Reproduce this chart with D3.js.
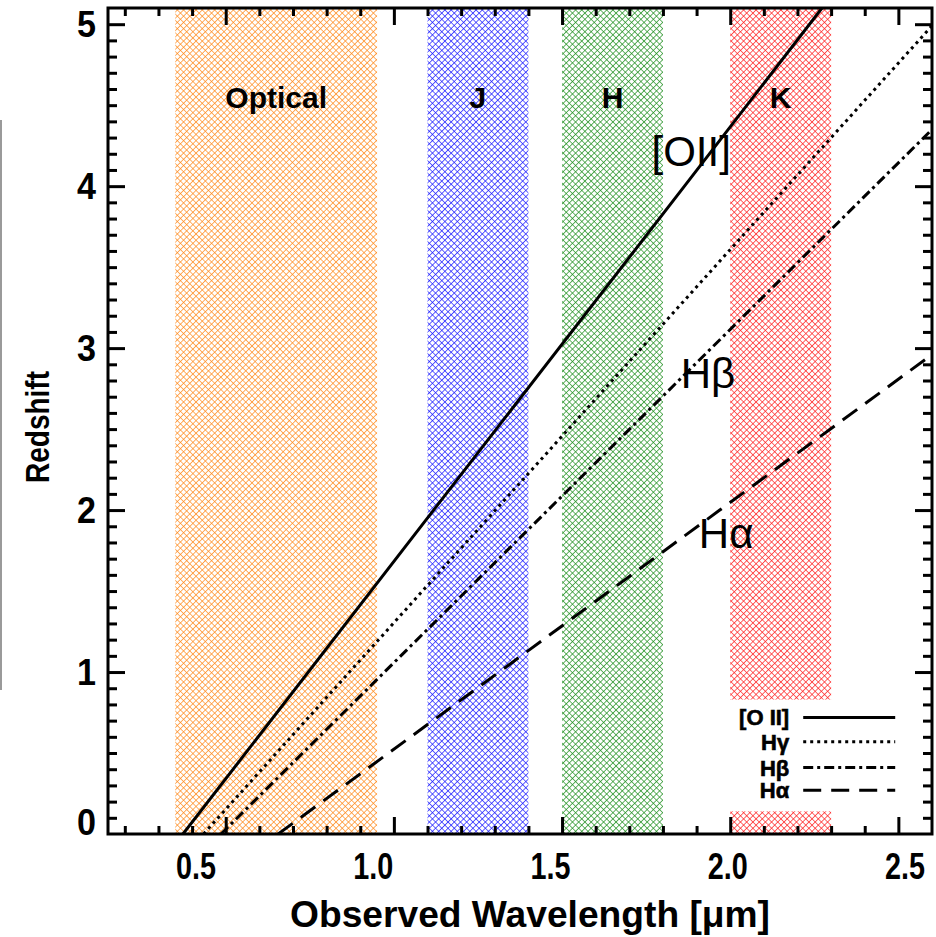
<!DOCTYPE html>
<html>
<head>
<meta charset="utf-8">
<script src="https://cdn.jsdelivr.net/npm/d3@7"></script>
<style>
  body { margin: 0; background: #fff; }
  svg { display: block; }
</style>
</head>
<body>
<svg id="chart" width="936" height="937"></svg>
<script>
// Photometric bands (observed wavelength, microns)
const bandNames  = ["Optical", "J", "H", "K"];
const bandStart  = [0.35, 1.10, 1.50, 2.00];
const bandEnd    = [0.95, 1.40, 1.80, 2.30];
const bandColors = ["#ff8a1c", "#1a1aff", "#1f8f1f", "#ff2020"];

// Emission lines: (observed wavelength [um], redshift) points along each track
const oiiPoints = [[0.373, 0], [1.118, 2], [1.864, 4], [2.273, 5.1]];
const hgPoints  = [[0.434, 0], [1.302, 2], [2.170, 4], [2.600, 4.99]];
const hbPoints  = [[0.486, 0], [1.458, 2], [2.430, 4], [2.600, 4.35]];
const haPoints  = [[0.656, 0], [1.313, 1], [1.969, 2], [2.600, 2.96]];

const lineNames  = ["[O II]", "Hγ", "Hβ", "Hα"];
const lineSeries = [oiiPoints, hgPoints, hbPoints, haPoints];
const lineDashes = [null, "3,4", "10,4,3,4", "18,10"];

// In-plot line labels: [text, wavelength, redshift]
const trackLabels = [["[OII]", 1.884, 4.22], ["Hβ", 1.934, 2.85], ["Hα", 1.988, 1.86]];

// Axis ticks
const xTickLabels = [0.5, 1.0, 1.5, 2.0, 2.5];
const yTickLabels = [0, 1, 2, 3, 4, 5];
const xMinorTicks = d3.range(2, 26).map(d => d / 10);
const yMinorTicks = d3.range(1, 51).map(d => d / 10);

const svg = d3.select("#chart");
const pL = 108, pR = 932, pT = 8, pB = 834;

const x = d3.scaleLinear().domain([0.15, 2.6]).range([pL, pR]);
const y = d3.scaleLinear().domain([0, 5.1]).range([pB, pT]);
// tick-label placement along the bottom edge
const xLabelPos = d3.scaleLinear().domain([0.5, 2.5]).range([196, 905]);

const font = "Liberation Sans, Arial, sans-serif";

// Crosshatch patterns for the bands
const defs = svg.append("defs");
bandColors.forEach((c, i) => {
  const p = defs.append("pattern")
    .attr("id", "hatch" + i)
    .attr("patternUnits", "userSpaceOnUse")
    .attr("width", 4.4).attr("height", 4.4)
    .attr("patternTransform", "rotate(45)");
  p.append("path")
    .attr("d", "M0,0H4.4M0,0V4.4")
    .attr("stroke", c).attr("stroke-width", 1.4).attr("fill", "none");
});
defs.append("clipPath").attr("id", "plotClip")
  .append("rect").attr("x", pL).attr("y", pT)
  .attr("width", pR - pL).attr("height", pB - pT);

// faint edge line at far left
svg.append("line").attr("x1", 1).attr("x2", 1).attr("y1", 120).attr("y2", 690)
  .attr("stroke", "#9a9a9a").attr("stroke-width", 2);

const plot = svg.append("g").attr("clip-path", "url(#plotClip)");

plot.selectAll("rect.band").data(bandNames).join("rect")
  .attr("class", "band")
  .attr("x", (d, i) => x(bandStart[i]))
  .attr("width", (d, i) => x(bandEnd[i]) - x(bandStart[i]))
  .attr("y", y(5.1)).attr("height", y(0) - y(5.1))
  .attr("fill", (d, i) => `url(#hatch${i})`);

// legend backdrop
const legX0 = x(1.85), legX1 = x(2.6), legY0 = y(0.83), legY1 = y(0.14);
plot.append("rect").attr("x", legX0).attr("y", legY0)
  .attr("width", legX1 - legX0).attr("height", legY1 - legY0).attr("fill", "#fff");

// band labels
svg.selectAll("text.band").data(bandNames).join("text")
  .attr("class", "band")
  .attr("x", (d, i) => x((bandStart[i] + bandEnd[i]) / 2))
  .attr("y", y(4.55))
  .attr("dy", "0.36em")
  .attr("text-anchor", "middle")
  .attr("font-family", font)
  .attr("font-weight", "bold")
  .attr("font-size", 30)
  .text(d => d);

// redshift tracks
const lineGen = d3.line().x(d => x(d[0])).y(d => y(d[1]));
plot.selectAll("path.track").data(lineSeries).join("path")
  .attr("class", "track")
  .attr("d", lineGen)
  .attr("fill", "none")
  .attr("stroke", "#000")
  .attr("stroke-width", 3)
  .attr("stroke-dasharray", (d, i) => lineDashes[i]);

// track labels
svg.selectAll("text.track").data(trackLabels).join("text")
  .attr("class", "track")
  .attr("x", d => x(d[1])).attr("y", d => y(d[2]))
  .attr("dy", "0.36em")
  .attr("text-anchor", "middle")
  .attr("font-family", font)
  .attr("font-size", 42)
  .text(d => d[0]);

// legend
const legRows = [0.72, 0.57, 0.41, 0.27];
const leg = svg.append("g");
lineNames.forEach((n, i) => {
  leg.append("text")
    .attr("x", x(2.0) + 59).attr("y", y(legRows[i])).attr("dy", "0.36em")
    .attr("text-anchor", "end")
    .attr("font-family", font)
    .attr("font-weight", "900").attr("font-size", 22)
    .attr("stroke", "#000").attr("stroke-width", 0.6)
    .text(n);
  leg.append("line")
    .attr("x1", x(2.0) + 73).attr("x2", x(2.0) + 165)
    .attr("y1", y(legRows[i])).attr("y2", y(legRows[i]))
    .attr("stroke", "#000").attr("stroke-width", 3)
    .attr("stroke-dasharray", lineDashes[i]);
});

// axes: minor + major ticks on all four sides
function ticks(axisFn, scale, values, size, transform) {
  const g = svg.append("g").attr("transform", transform)
    .call(axisFn(scale).tickValues(values).tickSize(size).tickSizeOuter(0).tickFormat(""));
  g.select(".domain").remove();
  g.selectAll(".tick line").attr("stroke", "#000").attr("stroke-width", 3);
  return g;
}
const xMinorOnly = xMinorTicks.filter(v => !xTickLabels.some(t => Math.abs(t - v) < 1e-6));
const yMinorOnly = yMinorTicks.filter(v => !yTickLabels.some(t => Math.abs(t - v) < 1e-6));
ticks(d3.axisTop, x, xMinorOnly, 8, `translate(0,${pB})`);
ticks(d3.axisTop, x, xTickLabels, 17, `translate(0,${pB})`);
ticks(d3.axisBottom, x, xMinorOnly, 8, `translate(0,${pT})`);
ticks(d3.axisBottom, x, xTickLabels, 17, `translate(0,${pT})`);
ticks(d3.axisRight, y, yMinorOnly, 9, `translate(${pL},0)`);
ticks(d3.axisRight, y, yTickLabels.filter(v => v > 0), 17, `translate(${pL},0)`);
ticks(d3.axisLeft, y, yMinorOnly, 9, `translate(${pR},0)`);
ticks(d3.axisLeft, y, yTickLabels.filter(v => v > 0), 17, `translate(${pR},0)`);

// frame
svg.append("rect").attr("x", pL).attr("y", pT)
  .attr("width", pR - pL).attr("height", pB - pT)
  .attr("fill", "none").attr("stroke", "#000").attr("stroke-width", 3);

// tick labels
svg.selectAll("text.xl").data(xTickLabels).join("text")
  .attr("class", "xl")
  .attr("x", d => xLabelPos(d)).attr("y", pB + 32).attr("dy", "0.36em")
  .attr("text-anchor", "middle")
  .attr("font-family", font).attr("font-weight", "bold").attr("font-size", 37)
  .attr("textLength", 40).attr("lengthAdjust", "spacingAndGlyphs")
  .text(d3.format(".1f"));
svg.selectAll("text.yl").data(yTickLabels).join("text")
  .attr("class", "yl")
  .attr("x", pL - 12).attr("y", d => y(d) - (d === 0 ? 12 : 0)).attr("dy", "0.36em")
  .attr("text-anchor", "end")
  .attr("font-family", font).attr("font-weight", "bold").attr("font-size", 36)
  .attr("textLength", 19).attr("lengthAdjust", "spacingAndGlyphs")
  .text(d => d);

// axis titles
svg.append("text")
  .attr("x", 530).attr("y", 914).attr("dy", "0.36em")
  .attr("text-anchor", "middle")
  .attr("font-family", font).attr("font-weight", "bold").attr("font-size", 37)
  .attr("textLength", 480).attr("lengthAdjust", "spacingAndGlyphs")
  .text("Observed Wavelength [μm]");
svg.append("text")
  .attr("transform", `translate(37,427) rotate(-90)`)
  .attr("dy", "0.36em")
  .attr("text-anchor", "middle")
  .attr("font-family", font).attr("font-weight", "bold").attr("font-size", 33)
  .attr("textLength", 112).attr("lengthAdjust", "spacingAndGlyphs")
  .text("Redshift");
</script>
</body>
</html>
